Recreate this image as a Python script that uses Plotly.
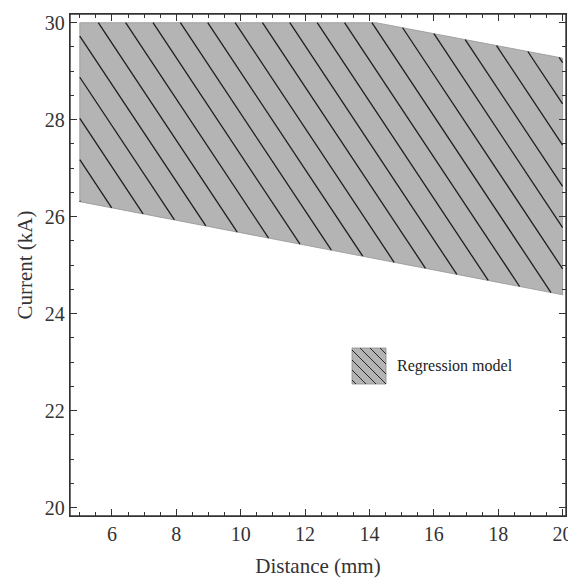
import plotly.graph_objects as go

# ---- data ----
distance_upper = [5.0, 14.2, 20.0]
current_upper = [30.0, 30.0, 29.27]
distance_lower = [5.0, 20.0]
current_lower = [26.31, 24.39]
series_name = "Regression model"
x_ticks = [6, 8, 10, 12, 14, 16, 18, 20]
y_ticks = [20, 22, 24, 26, 28, 30]

# ---- hatch style (in data space: lines x + y = c) ----
hatch_c0 = 5.575 + 30.0
hatch_step = 0.85

# polygon (clockwise)
poly_x = distance_upper + distance_lower[::-1]
poly_y = current_upper + current_lower[::-1]


def clip_line(c, px, py):
    pts = []
    n = len(px)
    for i in range(n):
        x1, y1 = px[i], py[i]
        x2, y2 = px[(i + 1) % n], py[(i + 1) % n]
        f1 = x1 + y1 - c
        f2 = x2 + y2 - c
        if f1 == f2:
            continue
        if (f1 <= 0 <= f2) or (f2 <= 0 <= f1):
            t = f1 / (f1 - f2)
            pts.append((x1 + t * (x2 - x1), y1 + t * (y2 - y1)))
    if len(pts) < 2:
        return None
    pts.sort()
    return pts[0], pts[-1]


sums = [a + b for a, b in zip(poly_x, poly_y)]
hx, hy = [], []
k = -int((hatch_c0 - min(sums)) / hatch_step) - 1
while hatch_c0 + k * hatch_step <= max(sums):
    seg = clip_line(hatch_c0 + k * hatch_step, poly_x, poly_y)
    if seg:
        (xa, ya), (xb, yb) = seg
        hx += [xa, xb, None]
        hy += [ya, yb, None]
    k += 1

fig = go.Figure()
fig.add_trace(go.Scatter(
    x=poly_x + [poly_x[0]], y=poly_y + [poly_y[0]],
    fill="toself", fillcolor="rgb(180,180,180)",
    line=dict(color="rgb(150,150,150)", width=0.8),
    mode="lines", name=series_name, showlegend=False, hoverinfo="skip"))
fig.add_trace(go.Scatter(
    x=hx, y=hy, mode="lines",
    line=dict(color="rgb(30,30,30)", width=1.3),
    showlegend=False, hoverinfo="skip"))

# ---- legend swatch (paper coordinates) ----
W, H = 568, 579
ml, mr, mt, mb = 70, 2, 14, 63
pw, ph = W - ml - mr, H - mt - mb


def px2paper(x, y):
    return (x - ml) / pw, (H - mb - y) / ph


shapes = [dict(type="rect", xref="paper", yref="paper", x0=0, y0=0, x1=1, y1=1,
               line=dict(color="#333", width=1.4), layer="above")]

sx0, sy0, sx1, sy1 = 352, 348, 386, 384
a0 = px2paper(sx0, sy0)
a1 = px2paper(sx1, sy1)
shapes.append(dict(type="rect", xref="paper", yref="paper",
                   x0=a0[0], y0=a1[1], x1=a1[0], y1=a0[1],
                   fillcolor="rgb(180,180,180)",
                   line=dict(color="rgb(140,140,140)", width=0.8)))
sw, sh = sx1 - sx0, sy1 - sy0
d = -sh + 4
while d < sw:
    ya = max(sy0, sy0 - d)
    yb = min(sy1, sy0 + sw - d)
    if yb > ya:
        p = px2paper(sx0 + d + (ya - sy0), ya)
        q = px2paper(sx0 + d + (yb - sy0), yb)
        shapes.append(dict(type="line", xref="paper", yref="paper",
                           x0=p[0], y0=p[1], x1=q[0], y1=q[1],
                           line=dict(color="rgb(40,40,40)", width=1)))
    d += 10

tx, ty = px2paper(395, 366)
fig.add_annotation(text=series_name, xref="paper", yref="paper",
                   x=tx, y=ty, xanchor="left", yanchor="middle",
                   showarrow=False,
                   font=dict(family="Liberation Serif", size=16, color="#222"))

axis_common = dict(
    showline=True, linecolor="#333", linewidth=1.4, mirror="allticks",
    ticks="inside", ticklen=7, tickwidth=1.4, tickcolor="#333",
    showgrid=False, zeroline=False, automargin=False,
    ticklabeloverflow="allow",
    tickfont=dict(family="Liberation Serif", size=20, color="#333"),
)

fig.update_layout(
    width=W, height=H,
    margin=dict(l=ml, r=mr, t=mt, b=mb, autoexpand=False),
    plot_bgcolor="white", paper_bgcolor="white",
    shapes=shapes,
    xaxis=dict(range=[4.696, 20.105], tickvals=x_ticks,
               minor=dict(dtick=0.5, tick0=5, ticks="inside", ticklen=4,
                          tickcolor="#333", tickwidth=1.2),
               title=dict(text="Distance (mm)", standoff=14,
                          font=dict(family="Liberation Serif", size=21, color="#333")),
               **axis_common),
    yaxis=dict(range=[19.829, 30.179], tickvals=y_ticks,
               minor=dict(dtick=0.5, tick0=20, ticks="inside", ticklen=4,
                          tickcolor="#333", tickwidth=1.2),
               title=dict(text="Current (kA)", standoff=6,
                          font=dict(family="Liberation Serif", size=21, color="#333")),
               **axis_common),
)

fig.write_html("out.html", config={"displayModeBar": False},
               post_script="document.body.style.margin='0';document.body.style.overflow='hidden';")
